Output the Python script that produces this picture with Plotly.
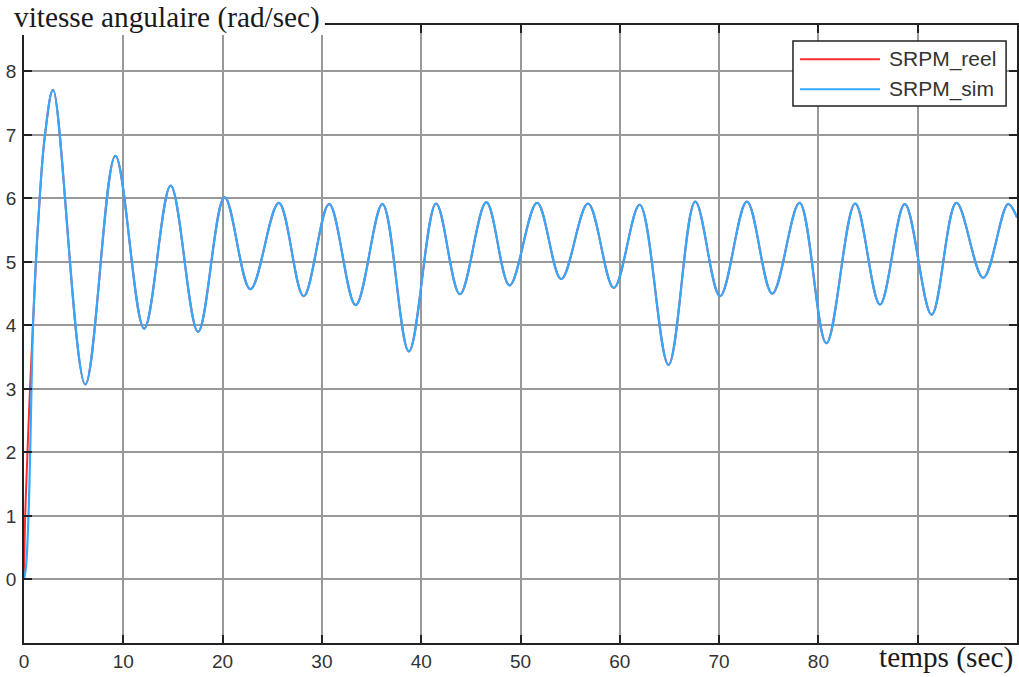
import plotly.graph_objects as go

# Time (s) and angular speed (rad/s): start-up ramp, then turning points of the oscillation
t_sim_start = [0.0, 0.20, 0.45, 0.62, 0.75, 0.93, 1.43, 2.10]
v_sim_start = [0.0, 0.20, 1.00, 2.00, 3.00, 4.10, 5.63, 6.98]

t_reel_start = [0.0, 0.12, 0.35, 0.55, 0.93, 1.43, 2.10]
v_reel_start = [0.0, 1.00, 2.00, 2.80, 4.10, 5.63, 6.98]

t_osc = [2.93, 6.17, 9.20, 12.10, 14.77, 17.53, 20.20, 22.80, 25.66, 28.16,
         30.73, 33.40, 36.10, 38.76, 41.50, 43.90, 46.56, 48.90, 51.67, 54.10,
         56.80, 59.40, 62.00, 64.90, 67.60, 70.10, 72.80, 75.35, 78.10, 80.80,
         83.70, 86.20, 88.70, 91.40, 93.90, 96.60, 99.10, 100.0]
v_osc = [7.71, 3.07, 6.67, 3.95, 6.20, 3.90, 6.02, 4.57, 5.93, 4.46,
         5.91, 4.32, 5.91, 3.59, 5.92, 4.49, 5.94, 4.63, 5.93, 4.73,
         5.92, 4.59, 5.90, 3.38, 5.95, 4.46, 5.95, 4.50, 5.93, 3.72,
         5.92, 4.33, 5.91, 4.17, 5.93, 4.75, 5.91, 5.70]

x_ticks = [0, 10, 20, 30, 40, 50, 60, 70, 80, 90]
x_tick_text = ["0", "10", "20", "30", "40", "50", "60", "70", "80", ""]
y_ticks = [0, 1, 2, 3, 4, 5, 6, 7, 8]

RED = "#ff2a2a"
BLUE = "#33a8ff"

fig = go.Figure()
fig.add_trace(go.Scatter(
    x=t_reel_start + t_osc, y=v_reel_start + v_osc, mode="lines",
    name="SRPM_reel", line=dict(color=RED, width=2, shape="spline", smoothing=1),
))
fig.add_trace(go.Scatter(
    x=t_sim_start + t_osc, y=v_sim_start + v_osc, mode="lines",
    name="SRPM_sim", line=dict(color=BLUE, width=2.2, shape="spline", smoothing=1),
))

axis_common = dict(
    showline=True, linecolor="#222", linewidth=1.5, mirror="allticks",
    ticks="inside", ticklen=8, tickwidth=1.5, tickcolor="#222",
    showgrid=True, gridcolor="#999999", gridwidth=1.8, zeroline=False,
    tickfont=dict(family="Liberation Sans, Arial", size=19, color="#333"),
)

fig.update_layout(
    width=1019, height=677,
    margin=dict(l=24, r=2, t=25, b=34, autoexpand=False),
    paper_bgcolor="white", plot_bgcolor="white",
    showlegend=False,
    xaxis=dict(range=[0, 100], tickvals=x_ticks, ticktext=x_tick_text, **axis_common),
    yaxis=dict(range=[-1, 8.73], tickvals=y_ticks, ticklabelstandoff=2, **axis_common),
)

# White patch behind the y caption, over the top-left corner of the frame
fig.add_shape(type="rect", xref="paper", yref="paper", x0=-0.03, x1=0.303, y0=0.984, y1=1.05,
              line=dict(width=0), fillcolor="white", layer="above")

fig.add_annotation(
    text="vitesse angulaire (rad/sec)", xref="paper", yref="paper",
    x=-0.0125, y=1.012, xanchor="left", yanchor="middle", showarrow=False,
    font=dict(family="Liberation Serif, Times New Roman", size=29.3, color="#1a1a1a"),
)
fig.add_annotation(
    text="temps (sec)", xref="paper", yref="paper",
    x=0.998, y=-0.0235, xanchor="right", yanchor="middle", showarrow=False,
    font=dict(family="Liberation Serif, Times New Roman", size=29.3, color="#1a1a1a"),
)

# Legend box in the upper-right corner
lx0, lx1, ly0, ly1 = 0.7744, 0.989, 0.869, 0.974
fig.add_shape(type="rect", xref="paper", yref="paper", x0=lx0, x1=lx1, y0=ly0, y1=ly1,
              line=dict(color="#222", width=1.5), fillcolor="white", layer="above")
legend_rows = [("SRPM_reel", RED, 0.9445), ("SRPM_sim", BLUE, 0.896)]
for label, color, yy in legend_rows:
    fig.add_shape(type="line", xref="paper", yref="paper", x0=0.7815, x1=0.862, y0=yy, y1=yy,
                  line=dict(color=color, width=2), layer="above")
    fig.add_annotation(text=label, xref="paper", yref="paper", x=0.8695, y=yy,
                       xanchor="left", yanchor="middle", showarrow=False,
                       font=dict(family="Liberation Sans, Arial", size=21, color="#333"))

fig.write_html("out.html")
